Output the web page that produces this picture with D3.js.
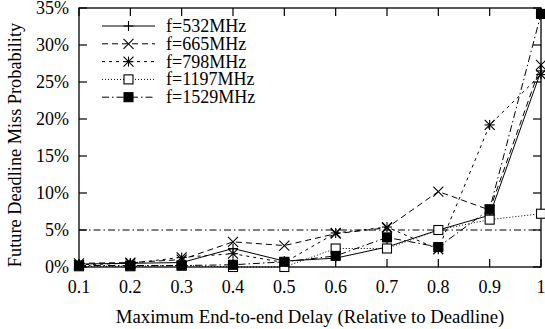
<!DOCTYPE html>
<html><head><meta charset="utf-8">
<script src="https://cdn.jsdelivr.net/npm/d3@7"></script>
<style>body{margin:0;background:#fff}svg{display:block}text{font-family:"Liberation Serif","Times New Roman",serif;fill:#000}</style>
</head><body><svg id="c" width="545" height="329"></svg>
<script>
const xValues = [0.1,0.2,0.3,0.4,0.5,0.6,0.7,0.8,0.9,1.0];
const s532  = [0.4,0.5,0.6,2.5,0.8,1.2,2.7,5.0,7.0,26.5];
const s665  = [0.5,0.6,1.0,3.4,2.9,4.5,5.3,10.2,7.7,27.3];
const s798  = [0.3,0.5,1.3,1.8,0.6,4.6,5.4,2.4,19.2,26.0];
const s1197 = [0.1,0.1,0.2,0.0,0.0,2.5,2.5,5.0,6.4,7.2];
const s1529 = [0.2,0.2,0.2,0.3,0.7,1.5,4.0,2.7,7.8,34.2];
const threshold = 5;
const seriesNames = ["f=532MHz","f=665MHz","f=798MHz","f=1197MHz","f=1529MHz"];
const xTicks = [0.1,0.2,0.3,0.4,0.5,0.6,0.7,0.8,0.9,1];
const yTicks = [0,5,10,15,20,25,30,35];

const series = [
  {name:seriesNames[0], data:s532, dash:null, marker:"plus"},
  {name:seriesNames[1], data:s665, dash:"6,4", marker:"cross"},
  {name:seriesNames[2], data:s798, dash:"3,4", marker:"star"},
  {name:seriesNames[3], data:s1197, dash:"1,2", marker:"box"},
  {name:seriesNames[4], data:s1529, dash:"7,3,1.5,3", marker:"fbox"}
];

const svg = d3.select("#c");
const L=79, R=541, T=8, B=267;
const x = d3.scaleLinear().domain([0.1,1]).range([L,R]);
const y = d3.scaleLinear().domain([0,35]).range([B,T]);
const FS = 18;

// frame
svg.append("rect").attr("x",L).attr("y",T).attr("width",R-L).attr("height",B-T)
  .attr("fill","none").attr("stroke","#000").attr("stroke-width",1.3);

// ticks inward, mirrored
const tl=8;
const g = svg.append("g").attr("stroke","#000").attr("stroke-width",1.2);
xTicks.forEach(t=>{
  g.append("line").attr("x1",x(t)).attr("x2",x(t)).attr("y1",B).attr("y2",B-tl);
  g.append("line").attr("x1",x(t)).attr("x2",x(t)).attr("y1",T).attr("y2",T+tl);
});
yTicks.forEach(t=>{
  g.append("line").attr("x1",L).attr("x2",L+tl).attr("y1",y(t)).attr("y2",y(t));
  g.append("line").attr("x1",R).attr("x2",R-tl).attr("y1",y(t)).attr("y2",y(t));
});
// tick labels
xTicks.forEach(t=>{
  svg.append("text").attr("x",x(t)).attr("y",293).attr("text-anchor","middle")
    .attr("font-size",FS).text(d3.format("")(t));
});
yTicks.forEach(t=>{
  svg.append("text").attr("x",69).attr("y",y(t)+5.5).attr("text-anchor","end")
    .attr("font-size",FS).text(t+"%");
});
svg.append("text").attr("x",310).attr("y",323).attr("text-anchor","middle")
  .attr("font-size",18.8).text("Maximum End-to-end Delay (Relative to Deadline)");
svg.append("text").attr("transform","translate(21,145) rotate(-90)")
  .attr("text-anchor","middle").attr("font-size",18.3).text("Future Deadline Miss Probability");

// threshold line
svg.append("line").attr("x1",L).attr("x2",R).attr("y1",y(threshold)).attr("y2",y(threshold))
  .attr("stroke","#000").attr("stroke-width",1).attr("stroke-dasharray","7,3,1.5,3");

function marker(sel, type, cx, cy){
  const s=5;
  const gg = sel.append("g").attr("transform",`translate(${cx},${cy})`).attr("stroke","#000").attr("stroke-width",1.1);
  if(type==="plus"||type==="star"){
    gg.append("line").attr("x1",-s).attr("x2",s).attr("y1",0).attr("y2",0);
    gg.append("line").attr("x1",0).attr("x2",0).attr("y1",-s).attr("y2",s);
  }
  if(type==="cross"||type==="star"){
    gg.append("line").attr("x1",-s).attr("x2",s).attr("y1",-s).attr("y2",s);
    gg.append("line").attr("x1",-s).attr("x2",s).attr("y1",s).attr("y2",-s);
  }
  if(type==="box"){
    gg.append("rect").attr("x",-4.5).attr("y",-4.5).attr("width",9).attr("height",9).attr("fill","#fff");
  }
  if(type==="fbox"){
    gg.append("rect").attr("x",-4.5).attr("y",-4.5).attr("width",9).attr("height",9).attr("fill","#000");
  }
}

const line = d3.line().x((d,i)=>x(xValues[i])).y(d=>y(d));
series.forEach(s=>{
  svg.append("path").attr("d",line(s.data)).attr("fill","none").attr("stroke","#000")
    .attr("stroke-width",1).attr("stroke-dasharray",s.dash);
});
series.forEach(s=>{
  s.data.forEach((v,i)=>marker(svg,s.marker,x(xValues[i]),y(v)));
});

// legend
series.forEach((s,i)=>{
  const ly = 26 + i*17.8;
  svg.append("line").attr("x1",102).attr("x2",155).attr("y1",ly).attr("y2",ly)
    .attr("stroke","#000").attr("stroke-width",1).attr("stroke-dasharray",s.dash);
  marker(svg,s.marker,128.5,ly);
  svg.append("text").attr("x",166).attr("y",ly+6).attr("font-size",FS).text(s.name);
});
</script></body></html>
